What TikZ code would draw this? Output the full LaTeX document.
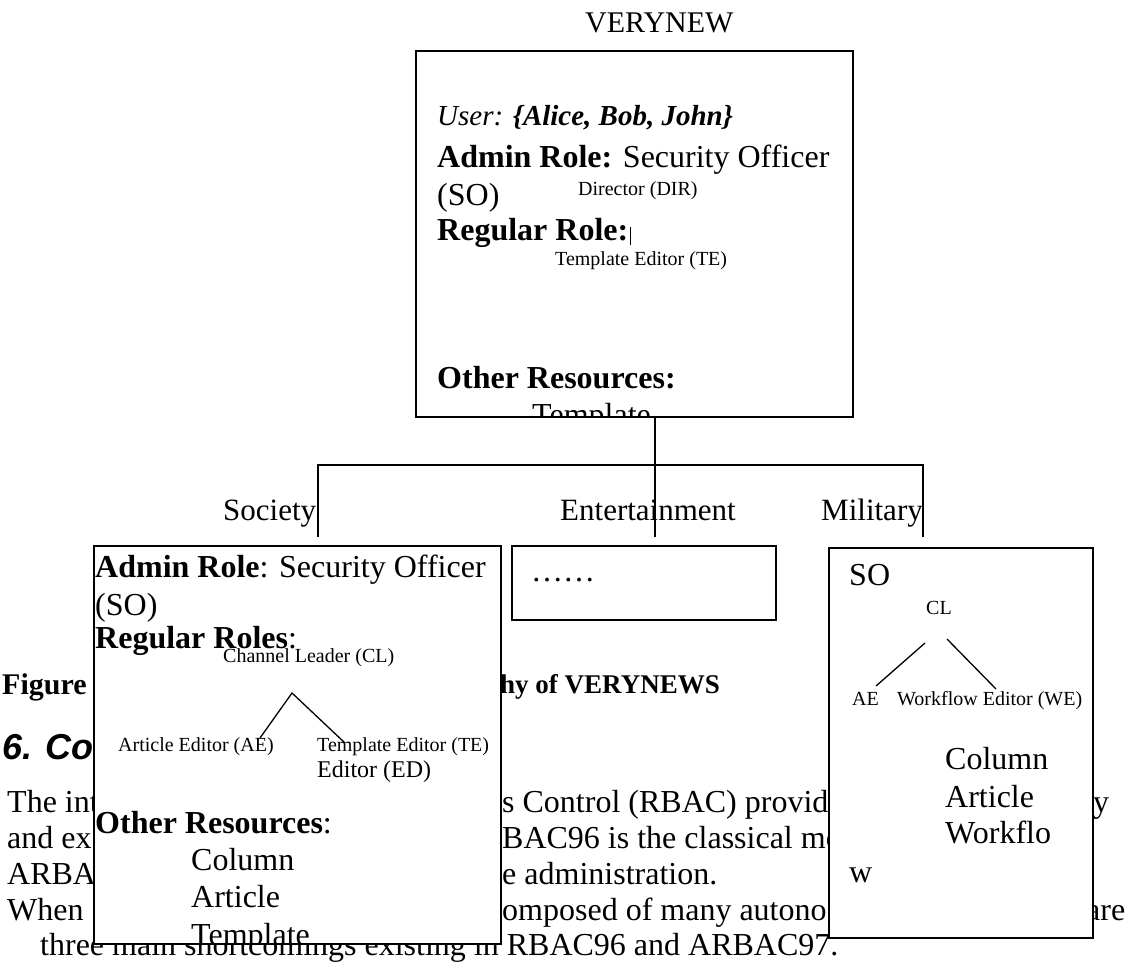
\documentclass[tikz,border=0pt]{standalone}
\usepackage{fontspec}
\setmainfont{Liberation Serif}
\setsansfont{Liberation Sans}
\newcommand{\fsz}[1]{\fontsize{#1}{#1}\selectfont}
\tikzset{
    panel/.style={draw, line width=1.6pt, fill=white, inner sep=0pt, anchor=north west},
    txt/.style={anchor=base west, inner sep=0pt},
    link/.style={line width=1.3pt},
}

\begin{document}
\begin{tikzpicture}[x=1pt, y=-1pt]
        \useasboundingbox (0,0) rectangle (1126,962);
        \fill[white] (0,0) rectangle (1126,962);

        % Page text behind the figure
        \node[txt] (cap-a) at (2,694) {\fsz{30}\bfseries Figure};
        \node[txt] (cap-b) at (500,693) {\fsz{27}\bfseries hy of VERYNEWS};
        \node[txt] (sec) at (2,759) {\fsz{36}\sffamily\bfseries\itshape 6. Co};
        \node[txt] (p1a) at (7,812) {\fsz{32}The int};
        \node[txt] (p1b) at (502,812) {\fsz{32}s Control (RBAC) provid};
        \node[txt] (p1c) at (1093,812) {\fsz{32}y};
        \node[txt] (p2a) at (7,848) {\fsz{32}and ex};
        \node[txt] (p2b) at (502,848) {\fsz{32}BAC96 is the classical mo};
        \node[txt] (p3a) at (7,884) {\fsz{32}ARBA};
        \node[txt] (p3b) at (502,884) {\fsz{32}e administration.};
        \node[txt] (p4a) at (7,920) {\fsz{32}When};
        \node[txt] (p4b) at (502,920) {\fsz{32}omposed of many autono};
        \node[txt] (p4c) at (1086,920) {\fsz{32}are};
        \node[txt] (p5) at (40,955) {\fsz{32}three main shortcomings existing in RBAC96 and ARBAC97.};

        % Hierarchy connectors
        \coordinate (busL) at (318,465);
        \coordinate (busR) at (923,465);
        \coordinate (dropL) at (318,537);
        \coordinate (dropM) at (655,537);
        \coordinate (dropR) at (923,537);
        \draw[link] (dropL) -- (busL) -- (busR) -- (dropR);
        \draw[link] (655,416) -- (dropM);

        % Channel labels
        \node[txt] (lab-soc) at (223,520) {\fsz{31}Society};
        \node[txt] (lab-ent) at (560,520) {\fsz{31}Entertainment};
        \node[txt] (lab-mil) at (821,520) {\fsz{31}Military};

        % VERYNEW domain
        \node[txt] (vn-title) at (585,32) {\fsz{30}VERYNEW};
        \node[panel, minimum width=437pt, minimum height=366pt] (verynew) at (415,50) {};
        \node[txt] (vn-user) at (437,125) {\fsz{29}\itshape User: \bfseries\{Alice, Bob, John\}};
        \node[txt] (vn-admin) at (437,167) {\fsz{32}\textbf{Admin Role:} Security Officer};
        \node[txt] (vn-so) at (437,205) {\fsz{32}(SO)};
        \node[txt] (vn-dir) at (578,195) {\fsz{20}Director (DIR)};
        \node[txt] (vn-regular) at (437,240) {\fsz{32}\bfseries Regular Role:};
        \draw[line width=1.2pt] ([xshift=2pt, yshift=-5pt]vn-regular.base east) -- ++(0,-18);
        \node[txt] (vn-te) at (555,265) {\fsz{20}Template Editor (TE)};
        \node[txt] (vn-other) at (437,388) {\fsz{32}\bfseries Other Resources:};
        \begin{scope}
            \clip (verynew.south west) rectangle (verynew.north east);
            \node[txt] (vn-res) at (532,425) {\fsz{32}Template};
        \end{scope}

        % Society channel
        \node[panel, minimum width=407pt, minimum height=398pt] (society) at (93,545) {};
        \node[txt] (so-admin) at (95,577) {\fsz{32}\textbf{Admin Role}: Security Officer};
        \node[txt] (so-so) at (95,615) {\fsz{32}(SO)};
        \node[txt] (so-regular) at (95,648) {\fsz{32}\textbf{Regular Roles}:};
        \node[txt] (so-cl) at (223,662) {\fsz{20}Channel Leader (CL)};
        \node[txt] (so-ae) at (118,751) {\fsz{20}Article Editor (AE)};
        \node[txt] (so-te) at (317,751) {\fsz{20}Template Editor (TE)};
        \node[txt] (so-ed) at (317,777) {\fsz{24}Editor (ED)};
        \coordinate (so-fork) at (292,693);
        \coordinate (so-aetip) at (260,738);
        \coordinate (so-tetip) at (345,743);
        \draw[link] (so-aetip) -- (so-fork) -- (so-tetip);
        \node[txt] (so-other) at (95,833) {\fsz{32}\textbf{Other Resources}:};
        \node[txt] (so-res1) at (191,870) {\fsz{32}Column};
        \node[txt] (so-res2) at (191,907) {\fsz{32}Article};
        \begin{scope}
            \clip (society.south west) rectangle (society.north east);
            \node[txt] (so-res3) at (191,945) {\fsz{32}Template};
        \end{scope}

        % Entertainment channel
        \node[panel, minimum width=264pt, minimum height=74pt] (entert) at (511,545) {};
        \node[txt] (en-dots) at (531,581) {\fsz{32}……};

        % Military channel
        \node[panel, minimum width=264pt, minimum height=390pt] (military) at (828,547) {};
        \node[txt] (mi-so) at (849,585) {\fsz{32}SO};
        \node[txt] (mi-cl) at (926,614) {\fsz{20}CL};
        \node[txt] (mi-ae) at (852,705) {\fsz{20}AE};
        \node[txt] (mi-we) at (897,705) {\fsz{20}Workflow Editor (WE)};
        \coordinate (mi-forkL) at (925,643);
        \coordinate (mi-forkR) at (947,639);
        \coordinate (mi-aetip) at (876,686);
        \coordinate (mi-wetip) at (996,689);
        \draw[link] (mi-forkL) -- (mi-aetip);
        \draw[link] (mi-forkR) -- (mi-wetip);
        \node[txt] (mi-res1) at (945,769) {\fsz{32}Column};
        \node[txt] (mi-res2) at (945,807) {\fsz{32}Article};
        \node[txt] (mi-res3) at (945,843) {\fsz{32}Workflo};
        \node[txt] (mi-res4) at (849,882) {\fsz{32}w};
    \end{tikzpicture}
\end{document}
